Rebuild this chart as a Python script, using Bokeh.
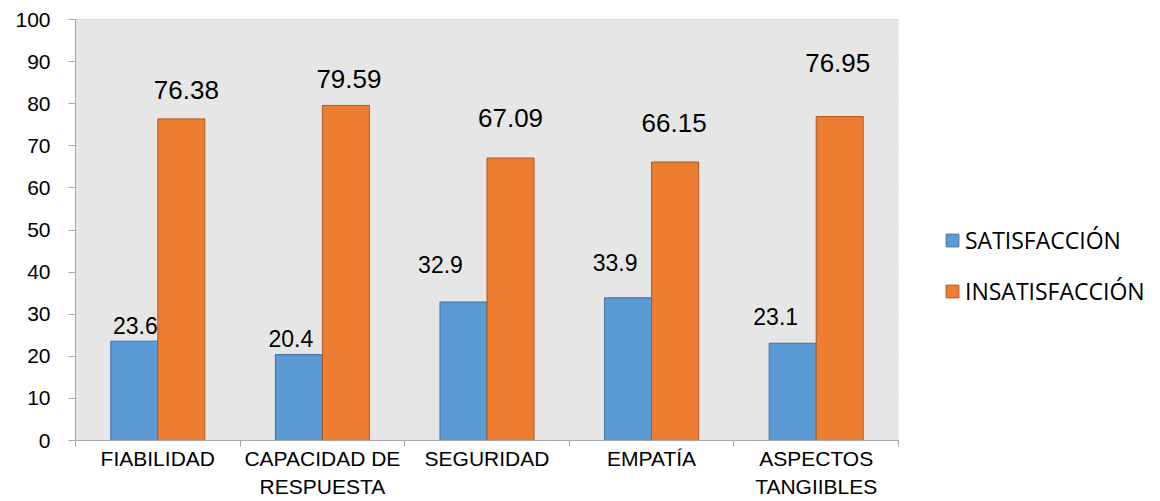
import numpy as np
from bokeh.plotting import figure
from bokeh.models import (ColumnDataSource, FixedTicker, Range1d, Legend, LegendItem,
                          BoxAnnotation)
from bokeh.core.properties import value
from bokeh.embed import file_html
from bokeh.resources import INLINE

# ---- data ----
categories = ["FIABILIDAD", "CAPACIDAD DE\nRESPUESTA", "SEGURIDAD", "EMPATÍA", "ASPECTOS\nTANGIIBLES"]
satisfaccion = [23.6, 20.4, 32.9, 33.9, 23.1]
insatisfaccion = [76.38, 79.59, 67.09, 66.15, 76.95]
series_names = ["SATISFACCIÓN", "INSATISFACCIÓN"]
y_ticks = [0, 10, 20, 30, 40, 50, 60, 70, 80, 90, 100]

# ---- label placement (screen pixels, relative to top-centre of each bar) ----
sat_label_dx = [1, -8, -23, -13, -17]
sat_label_dy = [-16, -16, -37, -35, -27]
ins_label_dx = [5, 3, 0, -1, -2]
ins_label_dy = [-29, -26, -40, -39, -54]

# ---- styles ----
BLUE, BLUE_LINE = "#5b9bd5", "#41719c"
ORANGE, ORANGE_LINE = "#ed7d31", "#ae5a21"
GRID = "#a6a6a6"
BG = "#e6e6e6"
FONT = "Liberation Sans"

W, H = 1160, 501
LEFT, TOP, BOTTOM_Y, PLOT_W = 75, 19, 441, 823   # plot-area geometry in px

n = len(categories)
centers = np.arange(n) + 0.5
bar_w = 2 / 7
sat_x = centers - bar_w / 2
ins_x = centers + bar_w / 2
x_end = n * (W - LEFT) / PLOT_W   # frame extends right to hold the legend

p = figure(width=W, height=H, x_range=Range1d(0, x_end), y_range=Range1d(0, 100),
           output_backend="svg", toolbar_location=None,
           min_border_left=LEFT, min_border_right=0, min_border_top=TOP,
           min_border_bottom=H - BOTTOM_Y)
p.background_fill_color = "white"
p.border_fill_color = "white"
p.outline_line_color = None

# grey plot area and horizontal gridlines limited to the category span
p.add_layout(BoxAnnotation(left=0, right=n, bottom=0, top=100, fill_color=BG,
                           fill_alpha=1, line_color=None, level="underlay"))
p.segment(x0=[0] * len(y_ticks), x1=[n] * len(y_ticks), y0=y_ticks, y1=y_ticks,
          line_color=GRID, line_width=1, level="underlay")
p.xgrid.grid_line_color = None
p.ygrid.grid_line_color = None

src_s = ColumnDataSource(dict(x=sat_x, top=satisfaccion,
                              lbl=[str(v) for v in satisfaccion],
                              dx=sat_label_dx, dy=sat_label_dy))
src_i = ColumnDataSource(dict(x=ins_x, top=insatisfaccion,
                              lbl=[str(v) for v in insatisfaccion],
                              dx=ins_label_dx, dy=ins_label_dy))

r_s = p.vbar(x="x", top="top", bottom=0, width=bar_w, source=src_s,
             fill_color=BLUE, line_color=BLUE_LINE, line_width=1)
r_i = p.vbar(x="x", top="top", bottom=0, width=bar_w, source=src_i,
             fill_color=ORANGE, line_color=ORANGE_LINE, line_width=1)

p.text(x="x", y="top", text="lbl", x_offset="dx", y_offset="dy", source=src_s,
       text_align="center", text_baseline="middle", text_font=value(FONT),
       text_font_size="23px", text_color="black")
p.text(x="x", y="top", text="lbl", x_offset="dx", y_offset="dy", source=src_i,
       text_align="center", text_baseline="middle", text_font=value(FONT),
       text_font_size="26px", text_color="black")

# y axis
p.yaxis.ticker = FixedTicker(ticks=y_ticks)
p.yaxis.axis_line_color = GRID
p.yaxis.major_tick_line_color = GRID
p.yaxis.major_tick_out = 7
p.yaxis.major_tick_in = 0
p.yaxis.minor_tick_line_color = None
p.yaxis.major_label_text_font = FONT
p.yaxis.major_label_text_font_size = "21px"
p.yaxis.major_label_text_color = "black"
p.yaxis.major_label_standoff = 18

# x axis: labels at category centres, tick marks at category boundaries
p.xaxis.bounds = (0, n)
p.xaxis.ticker = FixedTicker(ticks=list(centers), minor_ticks=list(range(n + 1)))
p.xaxis.major_label_overrides = {float(c): lab for c, lab in zip(centers, categories)}
p.xaxis.axis_line_color = GRID
p.xaxis.major_tick_line_color = None
p.xaxis.major_tick_out = 0
p.xaxis.major_tick_in = 0
p.xaxis.minor_tick_line_color = GRID
p.xaxis.minor_tick_out = 6
p.xaxis.minor_tick_in = 0
p.xaxis.major_label_text_font = FONT
p.xaxis.major_label_text_font_size = "21px"
p.xaxis.major_label_text_color = "black"
p.xaxis.major_label_text_line_height = 1.24
p.xaxis.major_label_standoff = 0

legend = Legend(items=[LegendItem(label=series_names[0], renderers=[r_s]),
                       LegendItem(label=series_names[1], renderers=[r_i])],
                location=(869, 133), orientation="vertical")
legend.label_text_font = "Open Sans"
legend.label_text_font_size = "23px"
legend.label_text_color = "black"
legend.glyph_width = 16
legend.glyph_height = 16
legend.label_standoff = 5
legend.spacing = 19
legend.padding = 0
legend.margin = 0
legend.border_line_color = None
legend.background_fill_alpha = 0
p.add_layout(legend, "center")

open("out.html", "w").write(file_html(p, INLINE))
